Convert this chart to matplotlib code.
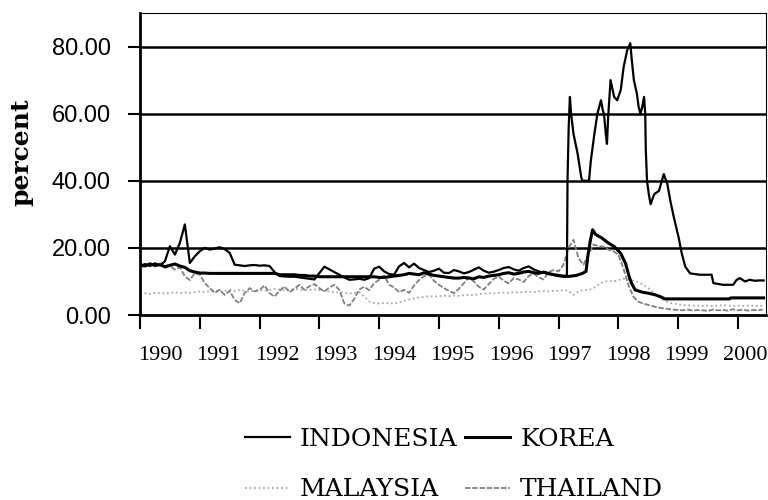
import matplotlib
matplotlib.use('Agg')
import matplotlib.pyplot as plt
import numpy as np

# monthly dates for the years before the crisis (Jan 1990 - Feb 1997)
pre_dates = 1990 + np.arange(86) / 12.0
# monthly dates for the full period (Jan 1990 - Jun 2000)
all_dates = 1990 + np.arange(126) / 12.0

indonesia_pre = [14.5, 15.2, 14.6, 15.4, 14.8, 16.0, 20.5, 18.0, 21.5, 27.0, 15.5, 17.5,
                 19.0, 20.0, 19.5, 19.8, 20.2, 19.6, 18.5, 15.0, 14.8, 14.6, 14.8, 14.9,
                 14.7, 14.8, 14.6, 12.8, 11.6, 11.5, 11.4, 11.4, 11.2, 11.0, 10.8, 10.6,
                 12.5, 14.4, 13.6, 12.8, 12.0, 11.2, 10.5, 10.6, 10.8, 10.5, 11.0, 13.8,
                 14.4, 13.0, 12.2, 12.0, 14.5, 15.5, 14.2, 15.3, 14.0, 13.4, 12.8, 13.2,
                 13.8, 12.6, 12.5, 13.4, 13.0, 12.4, 12.8, 13.5, 14.2, 13.2, 12.6, 12.9,
                 13.4, 14.0, 14.3, 13.6, 13.2, 14.0, 14.5, 13.6, 13.0, 12.6, 12.2, 12.0,
                 11.6, 11.4]
indonesia_crisis_dates = [1997.14, 1997.15, 1997.17, 1997.19, 1997.21, 1997.23, 1997.25, 1997.32,
                          1997.38, 1997.40, 1997.51, 1997.54, 1997.60, 1997.65, 1997.71, 1997.74,
                          1997.76, 1997.79, 1997.81, 1997.83, 1997.87, 1997.93, 1997.98, 1998.04,
                          1998.09, 1998.15, 1998.20, 1998.22, 1998.26, 1998.31, 1998.34, 1998.37,
                          1998.40, 1998.43, 1998.45, 1998.46, 1998.48, 1998.51, 1998.54, 1998.60,
                          1998.68, 1998.76, 1998.82, 1998.87, 1998.93, 1999.01, 1999.06, 1999.12,
                          1999.20, 1999.36, 1999.56, 1999.59, 1999.75, 1999.92, 1999.98, 2000.03,
                          2000.12, 2000.20, 2000.28, 2000.36, 2000.43]
indonesia_crisis = [11.5, 40, 56, 65, 60, 57, 54, 48, 41, 40, 40, 46, 54, 60, 64, 61, 60, 54, 51, 59,
                    70, 65, 64, 67, 74, 79, 81, 77, 70, 66, 62, 60, 62, 65, 60, 49, 40, 36, 33, 36,
                    37, 42, 39, 34, 29, 23, 18.4, 14.4, 12.4, 12, 12, 9.5, 9, 9, 10.5, 11, 10, 10.5,
                    10.2, 10.3, 10.3]

korea_pre = [15.0, 14.6, 15.2, 14.8, 15.0, 14.4, 14.8, 15.2, 14.6, 14.2, 13.2, 12.8,
             12.5, 12.5, 12.4, 12.4, 12.4, 12.4, 12.4, 12.4, 12.4, 12.4, 12.4, 12.4,
             12.4, 12.4, 12.4, 12.4, 12.0, 12.0, 12.0, 12.0, 11.8, 11.8, 11.6, 11.6,
             11.4, 11.4, 11.4, 11.4, 11.4, 11.4, 11.4, 11.4, 11.4, 11.4, 11.4, 11.4,
             11.2, 11.2, 11.4, 11.6, 11.8, 12.0, 12.4, 12.2, 12.0, 12.6, 12.2, 11.8,
             11.6, 11.4, 11.2, 11.0, 11.0, 11.2, 11.0, 10.8, 11.4, 11.2, 11.6, 11.8,
             12.0, 12.4, 12.6, 12.2, 12.4, 12.8, 13.0, 12.6, 12.4, 12.8, 12.4, 12.0,
             11.8, 11.6]
korea_crisis_dates = [1997.17, 1997.30, 1997.40, 1997.46, 1997.49, 1997.53, 1997.57, 1997.62,
                      1997.72, 1997.83, 1997.93, 1998.04, 1998.12, 1998.18, 1998.22, 1998.28,
                      1998.40, 1998.50, 1998.62, 1998.70, 1998.78, 1999.00, 1999.40, 1999.86,
                      1999.88, 2000.43]
korea_crisis = [11.5, 11.8, 12.4, 13.0, 17.5, 22.0, 25.4, 24.0, 23.0, 21.5, 20.4, 18.4, 15.4,
                11.5, 9.5, 7.5, 6.8, 6.5, 6.0, 5.5, 4.8, 4.8, 4.8, 4.8, 5.1, 5.1]

malaysia = [6.4, 6.5, 6.3, 6.6, 6.5, 6.4, 6.6, 6.8, 6.5, 6.7, 6.6, 6.8,
            7.0, 6.8, 7.2, 7.4, 7.0, 7.2, 7.5, 7.2, 7.4, 7.2, 7.0, 7.2,
            7.4, 7.2, 7.5, 7.8, 7.6, 7.4, 7.5, 7.8, 7.6, 7.4, 7.5, 7.6,
            7.4, 7.2, 7.0, 6.8, 6.8, 6.6, 6.4, 6.6, 6.8, 5.5, 4.0, 3.6,
            3.4, 3.6, 3.5, 3.4, 3.8, 4.2, 4.6, 5.0, 5.2, 5.4, 5.6, 5.5,
            5.6, 5.8, 5.6, 5.8, 5.7, 5.9, 6.0, 5.9, 6.2, 6.4, 6.5, 6.4,
            6.6, 6.7, 6.6, 6.8, 6.7, 6.9, 7.0, 6.8, 7.0, 7.1, 7.0, 7.2,
            7.2, 7.4, 7.2, 6.0, 7.0, 7.5, 7.4, 8.0, 9.0, 9.8, 10.2, 10.0,
            10.4, 10.8, 10.5, 10.2, 9.8, 9.0, 8.0, 6.8, 5.5, 4.5, 3.8, 3.4,
            3.2, 3.0, 2.9, 2.8, 2.8, 2.7, 2.8, 2.7, 2.8, 2.9, 2.8, 2.7,
            2.8, 2.7, 2.8, 2.8, 2.7, 2.8]

thailand = [14.0, 14.8, 15.5, 14.5, 15.2, 14.0, 14.6, 13.5, 14.2, 11.5, 10.4, 12.5,
            12.0, 9.5, 8.0, 6.6, 7.5, 6.0, 7.2, 4.5, 3.5, 6.5, 8.0, 7.0,
            7.5, 8.8, 6.5, 5.5, 7.2, 8.5, 6.8, 7.8, 9.0, 7.5, 8.6, 9.2,
            8.0, 7.0, 8.2, 9.0, 7.5, 3.5, 2.8, 4.8, 7.6, 8.4, 7.4, 9.5,
            10.5, 11.8, 9.0, 8.2, 6.8, 7.5, 6.6, 8.8, 10.4, 11.6, 12.0, 10.2,
            9.0, 8.0, 7.2, 6.5, 7.8, 9.5, 11.2, 10.0, 8.4, 7.6, 9.2, 10.8,
            11.4, 10.2, 9.4, 11.0, 10.6, 9.8, 11.6, 12.4, 11.2, 10.6, 12.8, 13.4,
            13.0, 15.0, 20.0, 22.4, 17.0, 15.0, 18.0, 21.0, 20.5, 20.4, 19.5, 19.0,
            18.0, 14.0, 9.0, 5.5, 4.0, 3.4, 3.0, 2.6, 2.2, 2.0, 1.8, 1.6,
            1.5, 1.4, 1.6, 1.3, 1.5, 1.4, 1.2, 1.6, 1.4, 1.5, 1.3, 1.7,
            1.4, 1.6, 1.3, 1.5, 1.4, 1.6]

years = list(range(1990, 2001))
yticks = [0, 20, 40, 60, 80]

fig = plt.figure(figsize=(7.68, 5.0), dpi=100, facecolor='white')
ax = fig.add_axes([0.1823, 0.37, 0.8151, 0.604])

ind_x = np.concatenate([pre_dates, indonesia_crisis_dates])
ind_y = np.concatenate([indonesia_pre, indonesia_crisis])
kor_x = np.concatenate([pre_dates, korea_crisis_dates])
kor_y = np.concatenate([korea_pre, korea_crisis])

ax.plot(all_dates, malaysia, color='#a8a8a8', lw=1.3, ls=(0, (1, 1.5)), label='MALAYSIA')
ax.plot(all_dates, thailand, color='#808080', lw=1.3, ls=(0, (3, 1)), label='THAILAND')
ax.plot(kor_x, kor_y, color='black', lw=2.2, label='KOREA')
ax.plot(ind_x, ind_y, color='black', lw=1.6, label='INDONESIA')

ax.set_xlim(1990, 2000.47)
ax.set_ylim(0, 90)
for v in yticks[1:]:
    ax.axhline(v, color='black', lw=1.8, zorder=0)

ax.set_yticks(yticks)
ax.set_yticklabels(['%.2f' % v for v in yticks], family='Liberation Sans', fontsize=17)
ax.set_xticks(years)
ax.set_xticklabels([])
# year labels sit a little right of their ticks and drift left across the axis
label_pos = [y + (20 + 58.5 * i) / 59.8 - i for i, y in enumerate(years)]
ax.set_xticks(label_pos, minor=True)
ax.set_xticklabels([str(y) for y in years], minor=True, family='Liberation Serif', fontsize=16)
ax.tick_params(axis='x', which='major', direction='out', length=10, width=1.5)
ax.tick_params(axis='x', which='minor', length=0, pad=22)
ax.tick_params(axis='y', direction='out', length=9, width=1.5, pad=12)

ax.spines['left'].set_linewidth(2)
ax.spines['bottom'].set_linewidth(2)
ax.spines['top'].set_linewidth(0.8)
ax.spines['right'].set_linewidth(0.8)

ax.set_ylabel('percent', family='DejaVu Serif', fontweight='bold', fontsize=18)
ax.yaxis.set_label_coords(-0.17, 0.54)

handles, labels = ax.get_legend_handles_labels()
order = [3, 0, 2, 1]
fig.legend([handles[i] for i in order], [labels[i] for i in order], ncol=2, frameon=False,
           loc='upper left', bbox_to_anchor=(245 / 768, 1 - 428 / 500), borderpad=0,
           borderaxespad=0, handlelength=1.8, handletextpad=0.4, columnspacing=0.3,
           labelspacing=1.1, prop={'family': 'DejaVu Serif', 'size': 18})

fig.savefig('out.png', dpi=100, facecolor='white')
